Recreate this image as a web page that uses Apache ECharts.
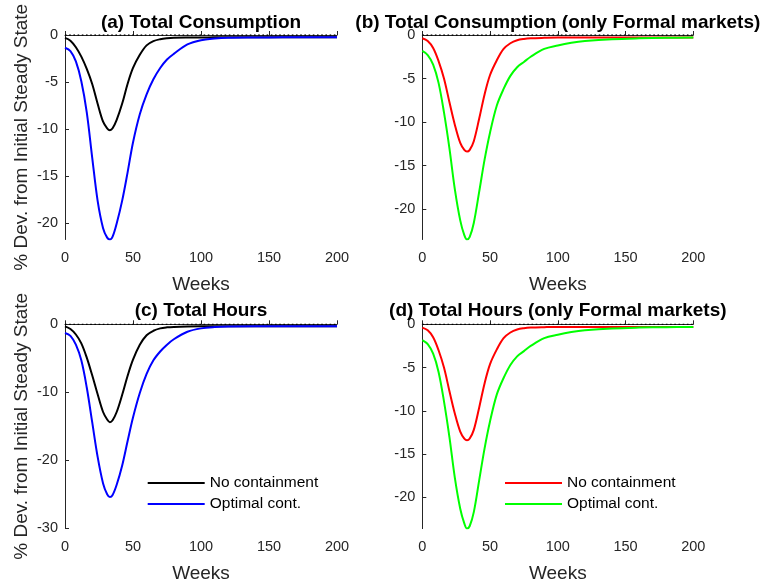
<!DOCTYPE html>
<html>
<head>
<meta charset="utf-8">
<script src="https://cdn.jsdelivr.net/npm/echarts@6/dist/echarts.min.js"></script>
<style>
    html, body { margin: 0; padding: 0; background: #fff; }
    #chart { width: 761px; height: 586px; }
</style>
</head>
<body>
<div id="chart"></div>
<script>
const weeks = [0, 4, 8, 12, 16, 20, 24, 28, 31, 33, 35, 38, 42, 46, 50, 55, 60, 65, 70, 75, 80, 90, 100, 110, 120, 140, 160, 180, 200];
const xTicks = [0, 50, 100, 150, 200];

// (a) Total Consumption
const consNoCont = [-0.3, -0.6, -1.3, -2.3, -3.6, -5.2, -7.3, -9.2, -9.9, -10.1, -9.9, -9.0, -7.3, -5.2, -3.5, -2.1, -1.1, -0.65, -0.45, -0.35, -0.3, -0.27, -0.26, -0.25, -0.25, -0.25, -0.25, -0.25, -0.25];
const consOpt = [-1.35, -1.7, -2.8, -4.9, -8.2, -13.0, -17.6, -20.5, -21.5, -21.7, -21.4, -20.0, -17.6, -14.6, -11.4, -8.4, -6.3, -4.7, -3.5, -2.6, -2.0, -1.0, -0.55, -0.38, -0.3, -0.27, -0.25, -0.25, -0.25];
// (b) Total Consumption (only Formal markets)
const consFormalNoCont = [-0.38, -0.7, -1.5, -3.0, -5.0, -7.7, -10.3, -12.4, -13.2, -13.4, -13.2, -12.2, -9.6, -6.8, -4.6, -2.9, -1.6, -0.95, -0.6, -0.45, -0.38, -0.33, -0.3, -0.3, -0.3, -0.3, -0.3, -0.3, -0.3];
const consFormalOpt = [-1.83, -2.3, -3.4, -5.5, -8.9, -13.0, -17.7, -21.3, -23.0, -23.5, -23.2, -21.6, -18.0, -14.3, -11.2, -8.1, -6.2, -4.7, -3.7, -3.1, -2.5, -1.6, -1.2, -0.9, -0.7, -0.48, -0.38, -0.33, -0.3];
// (c) Total Hours
const hoursNoCont = [-0.3, -0.7, -1.5, -2.8, -4.9, -7.5, -10.3, -12.9, -14.0, -14.4, -14.1, -12.9, -10.4, -7.6, -5.2, -3.0, -1.6, -0.95, -0.6, -0.45, -0.38, -0.32, -0.3, -0.3, -0.3, -0.3, -0.3, -0.3, -0.3];
const hoursOpt = [-1.27, -1.7, -3.0, -5.3, -9.3, -14.4, -19.5, -23.4, -25.0, -25.4, -25.1, -23.6, -20.8, -17.2, -13.7, -10.1, -7.3, -5.3, -4.0, -3.0, -2.2, -1.1, -0.6, -0.4, -0.32, -0.3, -0.3, -0.3, -0.3];
// (d) Total Hours (only Formal markets)
const hoursFormalNoCont = [-0.38, -0.7, -1.5, -3.0, -5.0, -7.7, -10.3, -12.4, -13.2, -13.4, -13.2, -12.2, -9.6, -6.8, -4.6, -2.9, -1.6, -0.95, -0.6, -0.45, -0.38, -0.33, -0.3, -0.3, -0.3, -0.3, -0.3, -0.3, -0.3];
const hoursFormalOpt = [-1.83, -2.3, -3.4, -5.5, -8.9, -13.0, -17.7, -21.3, -23.0, -23.6, -23.3, -21.7, -18.0, -14.3, -11.2, -8.1, -6.2, -4.7, -3.7, -3.1, -2.5, -1.6, -1.2, -0.9, -0.7, -0.48, -0.38, -0.33, -0.3];

const yTicksA = [-20, -15, -10, -5, 0];
const yTicksB = [-20, -15, -10, -5, 0];
const yTicksC = [-30, -20, -10, 0];
const yTicksD = [-20, -15, -10, -5, 0];
const yMins = [-21.7, -23.5, -30, -23.6];

const titles = [
    '(a) Total Consumption',
    '(b) Total Consumption (only Formal markets)',
    '(c) Total Hours',
    '(d) Total Hours (only Formal markets)',
];
const NO_CONT = 'No containment';
const OPT = 'Optimal cont.';
const FORMAL = ' | formal';

const axisColor = '#262626';
const font = 'Liberation Sans, Arial, Helvetica, sans-serif';

const grids = [
    { left: 65, top: 35, width: 272, height: 204.5 },
    { left: 422.3, top: 35, width: 271, height: 204.5 },
    { left: 65, top: 324.3, width: 272, height: 204 },
    { left: 422.3, top: 324.3, width: 271, height: 204.3 },
];
const yTicks = [yTicksA, yTicksB, yTicksC, yTicksD];

const pairs = ys => weeks.map((w, i) => [w, ys[i]]);

const xAxes = grids.map((g, i) => ({
    type: 'value',
    gridIndex: i,
    min: 0,
    max: 200,
    interval: 50,
    name: 'Weeks',
    nameLocation: 'middle',
    nameGap: 36,
    nameTextStyle: { fontFamily: font, fontSize: 19, color: axisColor },
    axisLine: { lineStyle: { color: axisColor, width: 1 } },
    axisTick: { inside: true, length: 4, lineStyle: { color: axisColor }, customValues: xTicks },
    axisLabel: { margin: 11, fontFamily: font, fontSize: 14.5, color: axisColor, customValues: xTicks },
    splitLine: { show: false },
}));

const yAxes = grids.map((g, i) => ({
    type: 'value',
    gridIndex: i,
    min: yMins[i],
    max: 0,
    name: i % 2 === 0 ? '% Dev. from Initial Steady State' : '',
    nameLocation: 'middle',
    nameGap: 34,
    nameTextStyle: { fontFamily: font, fontSize: 19, color: axisColor },
    axisLine: { show: true, lineStyle: { color: axisColor, width: 1 } },
    axisTick: { show: true, inside: true, length: 4, lineStyle: { color: axisColor }, customValues: yTicks[i] },
    axisLabel: { margin: 7, fontFamily: font, fontSize: 14.5, color: axisColor, customValues: yTicks[i] },
    splitLine: { show: false },
}));

const curve = (name, color, ys, idx) => ({
    name,
    type: 'line',
    xAxisIndex: idx,
    yAxisIndex: idx,
    data: pairs(ys),
    smooth: 0.35,
    symbol: 'none',
    lineStyle: { color, width: 2 },
    itemStyle: { color },
    z: 3,
});

const zeroLine = idx => ({
    type: 'line',
    xAxisIndex: idx,
    yAxisIndex: idx,
    data: [[0, 0], [200, 0]],
    symbol: 'none',
    silent: true,
    lineStyle: { color: '#000', width: 1.6, type: [1.6, 2.6] },
    z: 2,
});

const series = [
    zeroLine(0), zeroLine(1), zeroLine(2), zeroLine(3),
    curve(NO_CONT, '#000000', consNoCont, 0),
    curve(OPT, '#0000ff', consOpt, 0),
    curve(NO_CONT + FORMAL, '#ff0000', consFormalNoCont, 1),
    curve(OPT + FORMAL, '#00ff00', consFormalOpt, 1),
    curve(NO_CONT, '#000000', hoursNoCont, 2),
    curve(OPT, '#0000ff', hoursOpt, 2),
    curve(NO_CONT + FORMAL, '#ff0000', hoursFormalNoCont, 3),
    curve(OPT + FORMAL, '#00ff00', hoursFormalOpt, 3),
];

const legendBase = {
    orient: 'vertical',
    top: 475,
    padding: 0,
    itemWidth: 57,
    itemHeight: 14,
    itemGap: 5,
    selectedMode: false,
    itemStyle: { opacity: 0 },
    textStyle: { fontFamily: font, fontSize: 15.5, color: '#000' },
    formatter: n => n.replace(FORMAL, ''),
};

const option = {
    backgroundColor: '#fff',
    animation: false,
    title: grids.map((g, i) => ({
        text: titles[i],
        left: g.left + g.width / 2,
        top: i < 2 ? 13 : 301.5,
        padding: 0,
        textAlign: 'center',
        textStyle: { fontFamily: font, fontSize: 19, fontWeight: 'bold', color: '#000' },
    })),
    grid: grids,
    xAxis: xAxes,
    yAxis: yAxes,
    legend: [
        Object.assign({}, legendBase, { left: 146.7, data: [NO_CONT, OPT] }),
        Object.assign({}, legendBase, { left: 504, data: [NO_CONT + FORMAL, OPT + FORMAL] }),
    ],
    series,
};

const myChart = echarts.init(document.getElementById('chart'));
myChart.setOption(option);
window.addEventListener('resize', () => {
    myChart.resize();
});
</script>
</body>
</html>
